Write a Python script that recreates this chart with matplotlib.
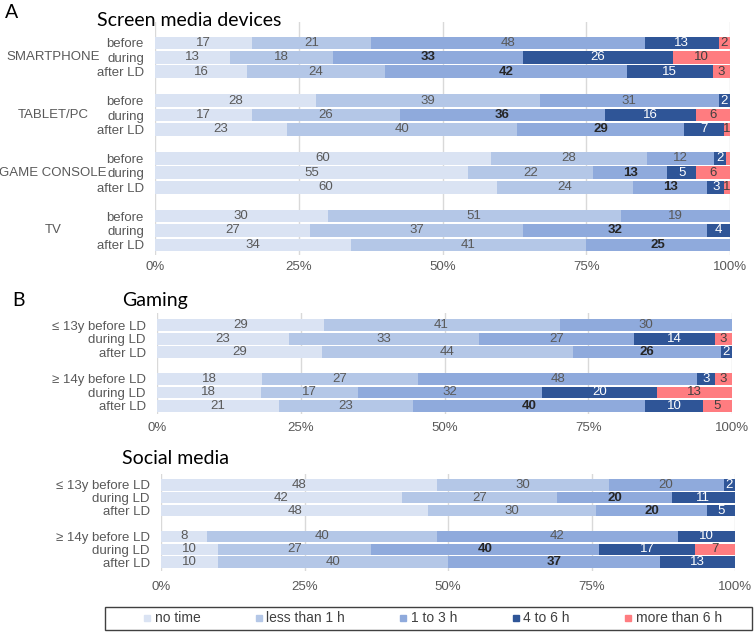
import matplotlib.pyplot as plt
from matplotlib.lines import Line2D
from matplotlib.patches import Rectangle
from matplotlib.transforms import blended_transform_factory

plt.rcParams['font.family'] = ['Liberation Sans', 'DejaVu Sans']

levels = ['no time', 'less than 1 h', '1 to 3 h', '4 to 6 h', 'more than 6 h']
colors = ['#dae3f3', '#b4c7e7', '#8faadc', '#2f5597', '#ff7c80']

# panel A: screen media devices
screen_groups = ['SMARTPHONE', 'TABLET/PC', 'GAME CONSOLE', 'TV']
screen_rows = ['before', 'during', 'after LD'] * 4
screen_values = [
    [17, 21, 48, 13, 2],
    [13, 18, 33, 26, 10],
    [16, 24, 42, 15, 3],
    [28, 39, 31, 2, 0],
    [17, 26, 36, 16, 6],
    [23, 40, 29, 7, 1],
    [60, 28, 12, 2, 0.8],
    [55, 22, 13, 5, 6],
    [60, 24, 13, 3, 1],
    [30, 51, 19, 0, 0],
    [27, 37, 32, 4, 0],
    [34, 41, 25, 0, 0],
]
screen_bold = [False, True, True] * 4

# panel B: gaming
age_rows = ['\u2264 13y before LD', 'during LD', 'after LD',
            '\u2265 14y before LD', 'during LD', 'after LD']
gaming_values = [
    [29, 41, 30, 0, 0],
    [23, 33, 27, 14, 3],
    [29, 44, 26, 2, 0],
    [18, 27, 48, 3, 3],
    [18, 17, 32, 20, 13],
    [21, 23, 40, 10, 5],
]
gaming_bold = [False, False, True, False, False, True]

# panel C: social media
social_values = [
    [48, 30, 20, 2, 0],
    [42, 27, 20, 11, 0],
    [48, 30, 20, 5, 0],
    [8, 40, 42, 10, 0],
    [10, 27, 40, 17, 7],
    [10, 40, 37, 13, 0],
]
social_bold = [False, True, True, False, True, True]

W, H = 755, 634
fig = plt.figure(figsize=(W / 100, H / 100), dpi=100)


def px_axes(x0, x1, ytop, ybot):
    return fig.add_axes([x0 / W, 1 - ybot / H, (x1 - x0) / W, (ybot - ytop) / H])


def positions(n, per_group=3):
    return [i + i // per_group for i in range(n)]


def draw_panel(ax, values, row_labels, bold, ylim, xpad):
    pos = positions(len(values))
    for r, vals in enumerate(values):
        total = sum(vals)
        left = 0
        for k, v in enumerate(vals):
            w = v / total * 100
            if w <= 0:
                continue
            ax.barh(pos[r], w, left=left, height=0.88, color=colors[k], zorder=2)
            if v >= 1:
                if k == 3:
                    tc, fw = 'white', 'normal'
                elif k == 4:
                    tc, fw = '#404040', 'normal'
                elif k == 2 and bold[r]:
                    tc, fw = '#262626', 'bold'
                else:
                    tc, fw = '#595959', 'normal'
                ax.text(left + w / 2, pos[r], '%d' % round(v), ha='center', va='center',
                        fontsize=9.5, color=tc, fontweight=fw, zorder=3)
            left += w
    ax.set_xlim(0, 100)
    ax.set_ylim(*ylim)
    ax.set_yticks(pos)
    ax.set_yticklabels(row_labels, fontsize=9.5, color='#595959')
    ax.set_xticks([0, 25, 50, 75, 100])
    ax.set_xticklabels(['0%', '25%', '50%', '75%', '100%'], fontsize=9.5, color='#595959')
    ax.tick_params(length=0)
    ax.tick_params(axis='y', pad=8)
    ax.tick_params(axis='x', pad=xpad)
    for s in ax.spines.values():
        s.set_visible(False)
    ax.grid(axis='x', color='#d9d9d9', linewidth=1, zorder=0)
    return pos


axA = px_axes(155, 730, 22, 255)
posA = draw_panel(axA, screen_values, screen_rows, screen_bold, (14.7, -1.45), 4)
tr = blended_transform_factory(fig.transFigure, axA.transData)
for g, name in enumerate(screen_groups):
    axA.text(53 / W, posA[3 * g + 1], name, transform=tr, ha='center', va='center',
             fontsize=9.5, color='#595959')

axB = px_axes(157, 732, 313, 414)
draw_panel(axB, gaming_values, age_rows, gaming_bold, (6.6, -0.9), 6)

axC = px_axes(161, 735, 474, 571)
draw_panel(axC, social_values, age_rows, social_bold, (6.7, -0.85), 7)

title_font = ['Lato', 'DejaVu Sans']
fig.text(5 / W, 1 - 12 / H, 'A', fontsize=14, family=title_font, va='center')
fig.text(97 / W, 1 - 20 / H, 'Screen media devices', fontsize=14, family=title_font, va='center')
fig.text(12 / W, 1 - 301 / H, 'B', fontsize=14, family=title_font, va='center')
fig.text(122 / W, 1 - 301 / H, 'Gaming', fontsize=14, family=title_font, va='center')
fig.text(122 / W, 1 - 459 / H, 'Social media', fontsize=14, family=title_font, va='center')

# legend box
fig.patches.append(Rectangle((105 / W, 1 - 630 / H), 647 / W, 23 / H, transform=fig.transFigure,
                             facecolor='white', edgecolor='#404040', linewidth=1))
handles = [Line2D([], [], marker='s', linestyle='none', markersize=4.5,
                  markerfacecolor=c, markeredgecolor=c) for c in colors]
leg = fig.legend(handles, levels, loc='center', ncol=5,
                 bbox_to_anchor=(431 / W, 1 - 618.5 / H),
                 fontsize=10, frameon=False, handletextpad=0.05,
                 columnspacing=3.7, handlelength=1.0)
for t in leg.get_texts():
    t.set_color('#404040')

fig.savefig('out.png', dpi=100)
